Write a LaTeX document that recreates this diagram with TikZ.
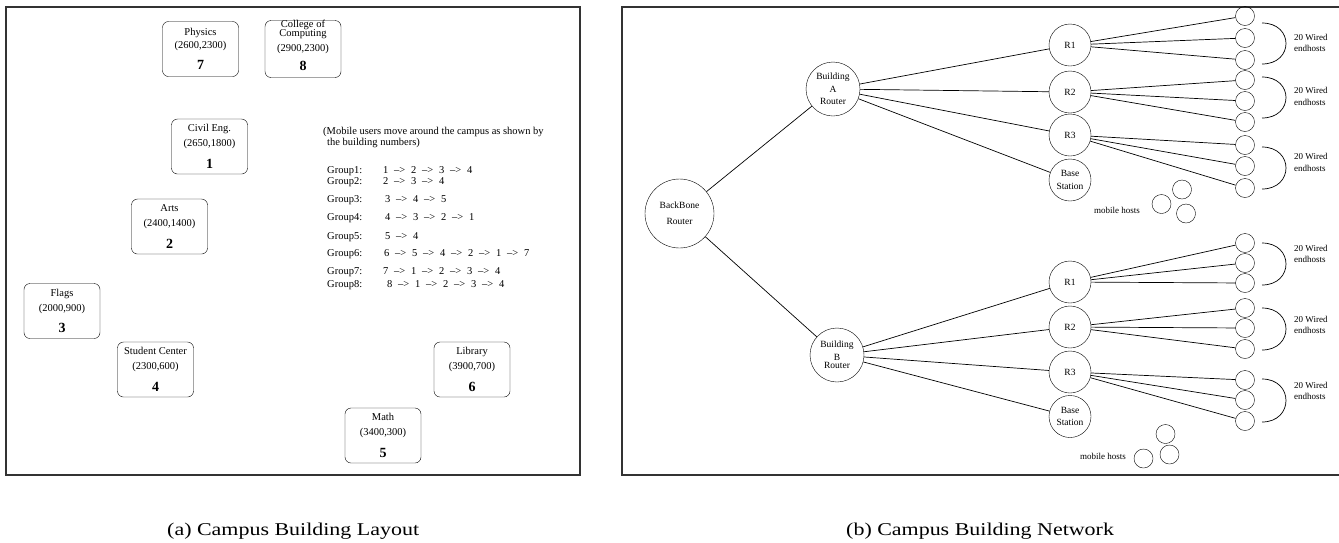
\documentclass[tikz,border=0pt]{standalone}
\usepackage{fontspec}
\setmainfont{Liberation Serif}
\usetikzlibrary{arrows,shapes}
\newcommand{\nxt}{\hspace{.55em}-->\hspace{.55em}}
\newcommand{\bnum}[1]{{\fontsize{14}{16}\selectfont\bfseries #1}}

\begin{document}
\begin{tikzpicture}[x=1pt,y=-1pt]
                \tikzstyle{frame}=[line width=1.2pt,black!80]
                \tikzstyle{bldg}=[draw,rounded corners=6pt,minimum width=76pt,minimum height=55pt,inner sep=0pt,align=center,font=\fontsize{10.5}{12.6}\selectfont]
                \tikzstyle{txt}=[inner sep=0pt,anchor=base west,font=\fontsize{10.5}{12.6}\selectfont]
                \tikzstyle{rtr}=[draw,circle,inner sep=0pt,align=center,minimum size=42pt,font=\fontsize{9.5}{11.4}\selectfont]
                \tikzstyle{host}=[draw,circle,inner sep=0pt,minimum size=19pt]
                \tikzstyle{link}=[line width=0.7pt]
                \tikzstyle{grp}=[inner sep=0pt,anchor=west,align=left,font=\fontsize{9}{11.5}\selectfont]
                \tikzstyle{captxt}=[inner sep=0pt,anchor=base west,font=\fontsize{18}{21}\selectfont]

                \useasboundingbox (0,0) rectangle (1339,542);
                \draw[frame] (6,7) rectangle (580,475);
                \draw[frame] (1339,7) -- (622,7) -- (622,475) -- (1339,475);

                \node[bldg] (phys) at (200.5,49) {Physics\\[0.4pt](2600,2300)\\[9pt]\bnum{7}};
                \node[bldg] (coc) at (303,49) {College of\\[-3.6pt]Computing\\[2.4pt](2900,2300)\\[6pt]\bnum{8}\rule[-7pt]{0pt}{0pt}};
                \node[bldg] (civ) at (209.5,146.5) {Civil Eng.\\[2.4pt](2650,1800)\\[9pt]\bnum{1}};
                \node[bldg] (arts) at (169.5,226.5) {Arts\\[2.4pt](2400,1400)\\[9pt]\bnum{2}};
                \node[bldg] (flags) at (62,311) {Flags\\[2.4pt](2000,900)\\[9pt]\bnum{3}};
                \node[bldg] (stud) at (155.5,369.5) {Student Center\\[2.4pt](2300,600)\\[9pt]\bnum{4}};
                \node[bldg] (lib) at (472,369.5) {Library\\[2.4pt](3900,700)\\[9pt]\bnum{6}};
                \node[bldg] (math) at (383,435.5) {Math\\[2.4pt](3400,300)\\[9pt]\bnum{5}};

                \node[txt] (note1) at (323,134.5) {(Mobile users move around the campus as shown by};
                \node[txt] (note2) at (327,145.5) {the building numbers)};
                \node[txt] (g1) at (327,173.5) {Group1:};
                \node[txt] (g2) at (327,184.5) {Group2:};
                \node[txt] (g3) at (327,202.5) {Group3:};
                \node[txt] (g4) at (327,220) {Group4:};
                \node[txt] (g5) at (327,239) {Group5:};
                \node[txt] (g6) at (327,256.5) {Group6:};
                \node[txt] (g7) at (327,274.5) {Group7:};
                \node[txt] (g8) at (327,287) {Group8:};
                \node[txt] (s1) at (383,173.5) {1\nxt2\nxt3\nxt4};
                \node[txt] (s2) at (383,184.5) {2\nxt3\nxt4};
                \node[txt] (s3) at (385,202.5) {3\nxt4\nxt5};
                \node[txt] (s4) at (385,220) {4\nxt3\nxt2\nxt1};
                \node[txt] (s5) at (385,239) {5\nxt4};
                \node[txt] (s6) at (384,256.5) {6\nxt5\nxt4\nxt2\nxt1\nxt7};
                \node[txt] (s7) at (383,274.5) {7\nxt1\nxt2\nxt3\nxt4};
                \node[txt] (s8) at (387,287) {8\nxt1\nxt2\nxt3\nxt4};

                \node[rtr,minimum size=69pt] (bb) at (679.5,213.5) {BackBone\\[4.6pt]Router};
                \node[rtr,minimum size=54pt] (bA) at (833,89) {Building\\[1.6pt]A\\[0.6pt]Router};
                \node[rtr,minimum size=54pt] (bB) at (837,355) {Building\\[1.6pt]B\\[-3.4pt]Router};
                \node[rtr] (ra1) at (1070,45) {R1};
                \node[rtr] (ra2) at (1070,92) {R2};
                \node[rtr] (ra3) at (1070,135) {R3};
                \node[rtr] (bsa) at (1070,180) {Base\\[0.9pt]Station};
                \node[rtr] (rb1) at (1070,282) {R1};
                \node[rtr] (rb2) at (1070,327) {R2};
                \node[rtr] (rb3) at (1070,372) {R3};
                \node[rtr] (bsb) at (1070,416.5) {Base\\[0.9pt]Station};

                \foreach \i/\y in {1/16,2/38,3/60,4/80,5/101,6/122,7/145,8/166,9/188}
                    \node[host] (ha\i) at (1245,\y) {};
                \foreach \i/\y in {1/243,2/263,3/283,4/308,5/328,6/349,7/380,8/400,9/421}
                    \node[host] (hb\i) at (1245,\y) {};

                \node[host] (ma1) at (1182,189.5) {};
                \node[host] (ma2) at (1161.5,204) {};
                \node[host] (ma3) at (1186,213.5) {};
                \node[grp,anchor=center] (mla) at (1117,210.5) {mobile hosts};
                \node[host] (mb1) at (1165.5,434) {};
                \node[host] (mb2) at (1143.5,458.5) {};
                \node[host] (mb3) at (1169.5,454.5) {};
                \node[grp,anchor=center] (mlb) at (1103,456) {mobile hosts};

                \draw[link] (bb) -- (bA);
                \draw[link] (bb) -- (bB);
                \foreach \r in {ra1,ra2,ra3,bsa}
                    \draw[link] (bA) -- (\r);
                \foreach \r in {rb1,rb2,rb3,bsb}
                    \draw[link] (bB) -- (\r);
                \foreach \r/\h in {ra1/ha1,ra1/ha2,ra1/ha3,ra2/ha4,ra2/ha5,ra2/ha6,ra3/ha7,ra3/ha8,ra3/ha9,
                                   rb1/hb1,rb1/hb2,rb1/hb3,rb2/hb4,rb2/hb5,rb2/hb6,rb3/hb7,rb3/hb8,rb3/hb9}
                    \draw[link] (\r) -- (\h);

                \foreach \n/\a/\b/\t in {1/23/64/43,2/77/118/96.5,3/147/189/162.5,4/243/285/254,5/308/350/325,6/379/422/391}{
                    \coordinate (bt\n) at (1262,\a);
                    \coordinate (bd\n) at (1262,\b);
                    \draw[link] (bt\n) .. controls +(32,0) and +(32,0) .. (bd\n);
                    \node[grp] (wl\n) at (1294,\t) {20 Wired\\endhosts};
                }

                \node[captxt] (capa) at (167,535) {\scalebox{1.22}[1]{(a) Campus Building Layout}};
                \node[captxt] (capb) at (846,535) {\scalebox{1.22}[1]{(b) Campus Building Network}};
\end{tikzpicture}
\end{document}
